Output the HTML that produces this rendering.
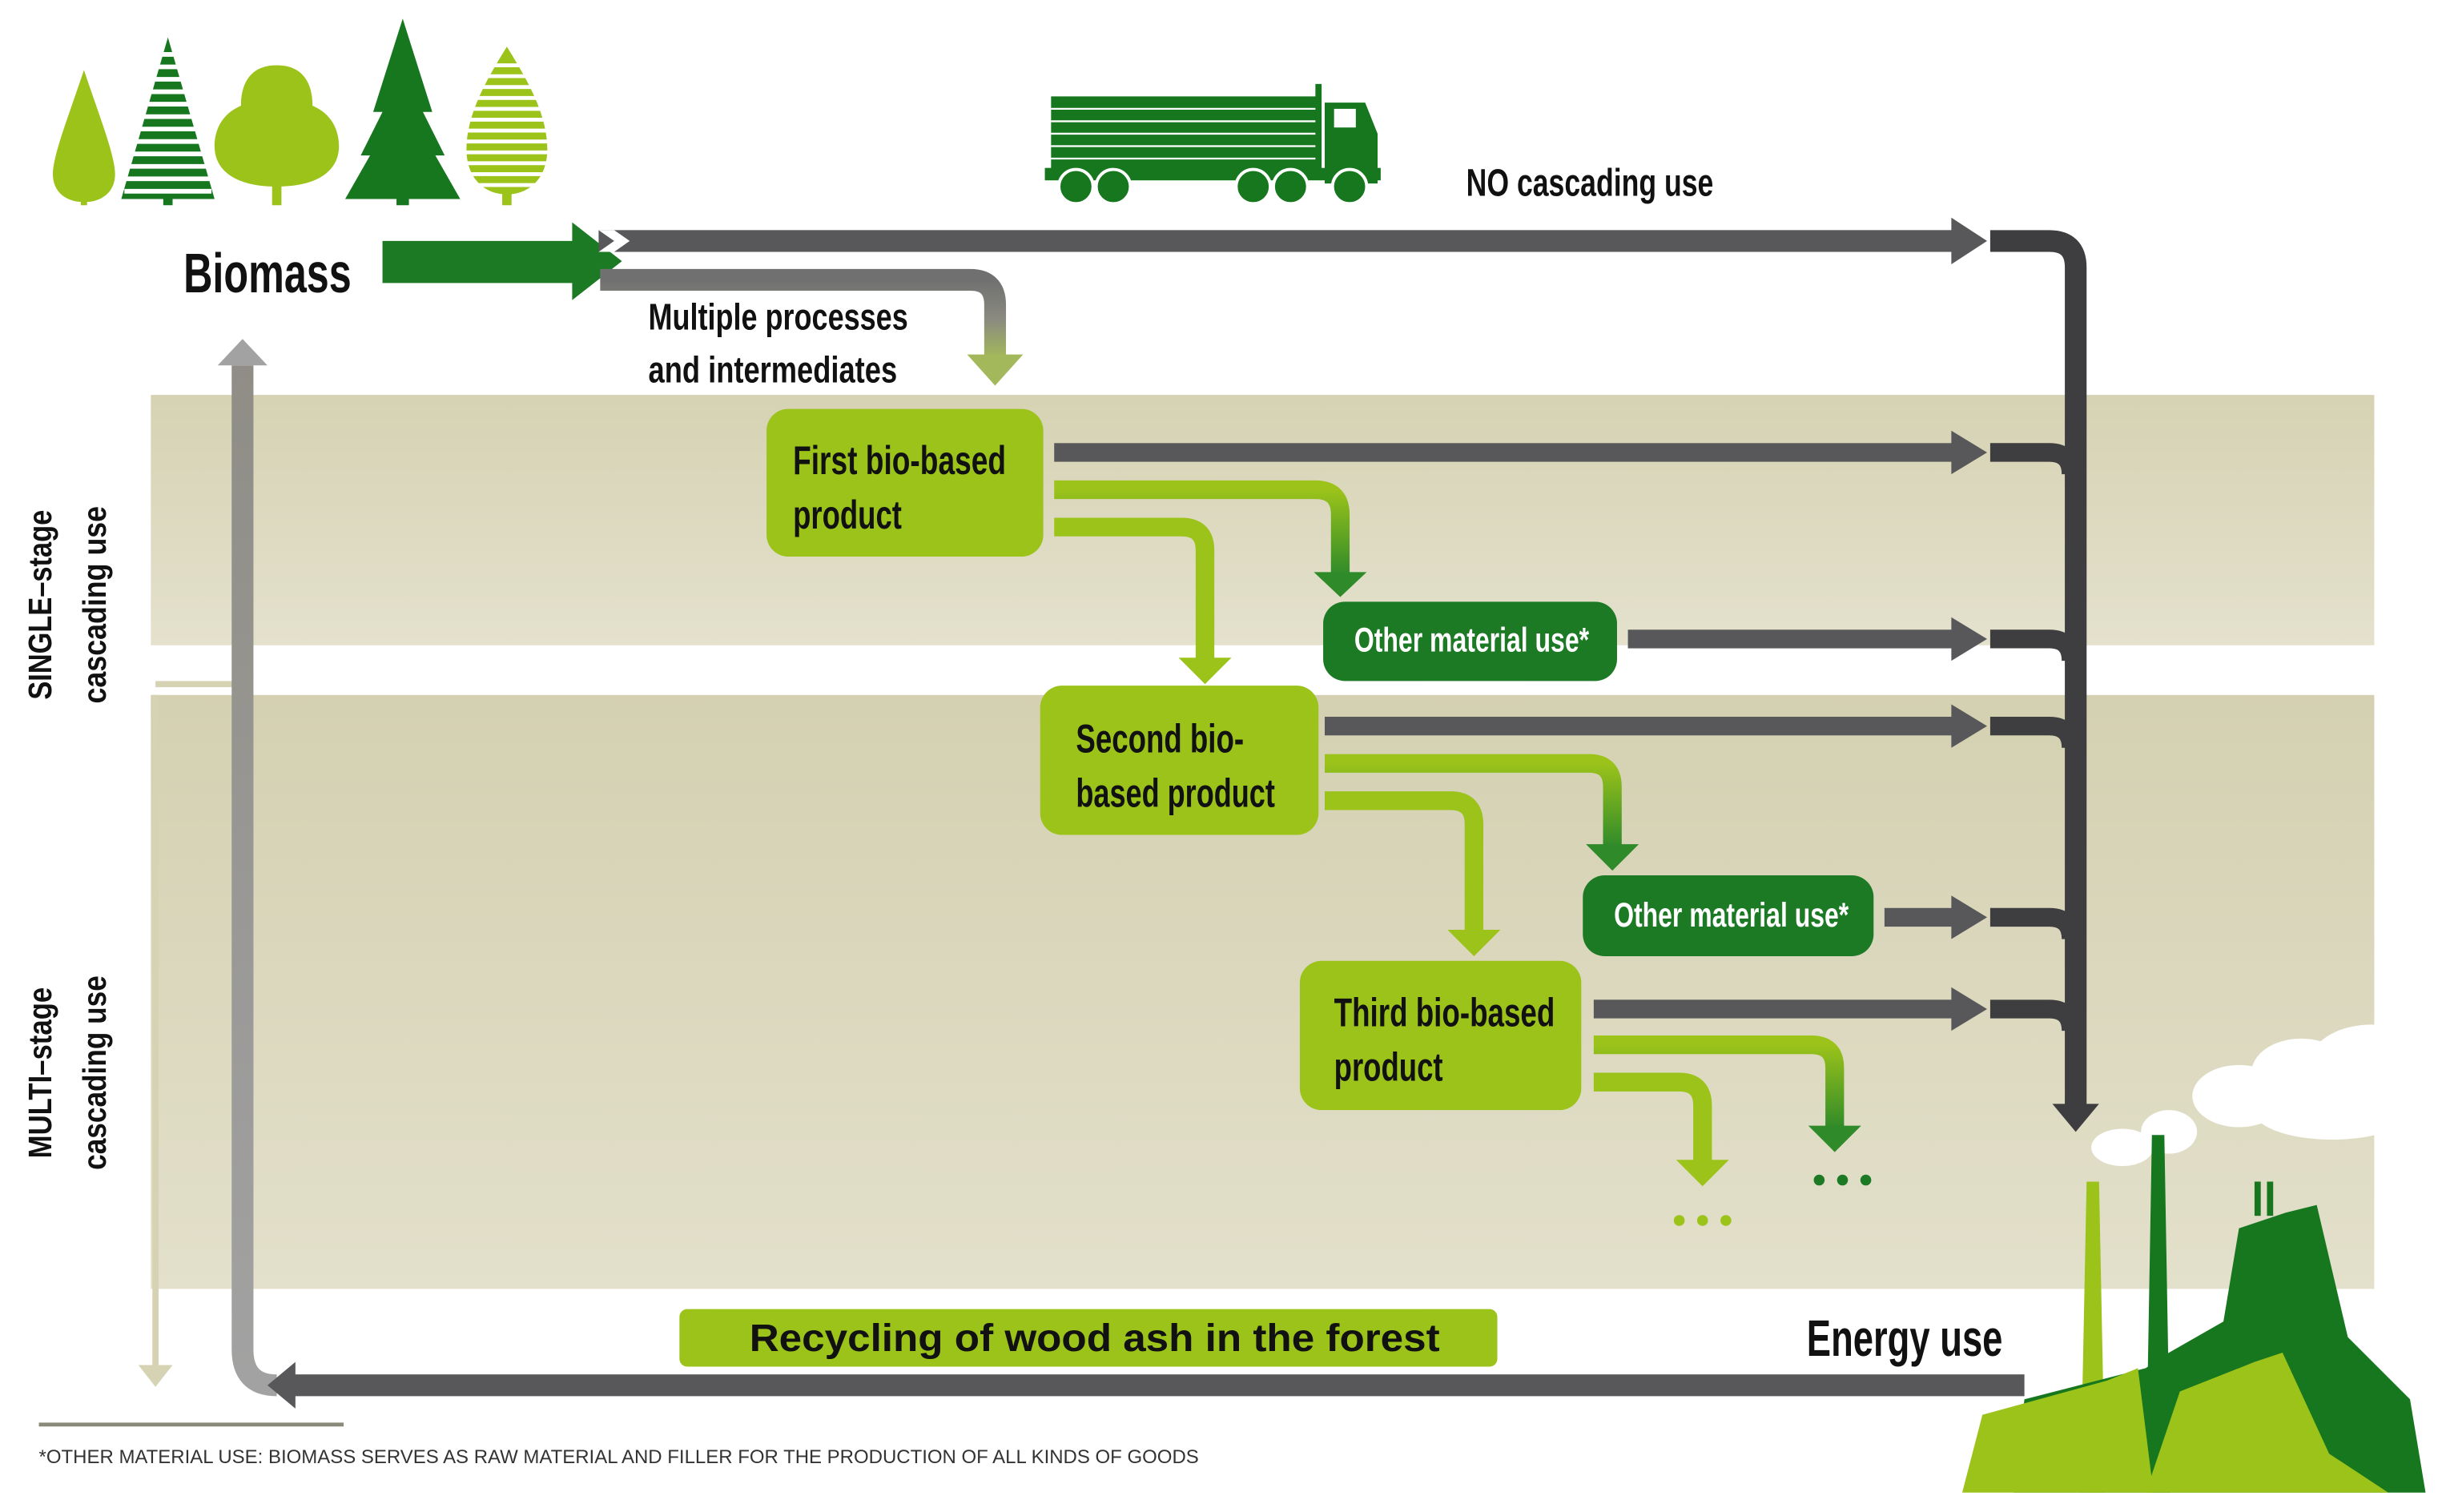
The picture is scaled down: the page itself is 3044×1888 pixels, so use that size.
<!DOCTYPE html>
<html><head><meta charset="utf-8"><style>
html,body{margin:0;padding:0;background:#fff;}
svg{display:block;}
.c{font-family:"Liberation Sans Narrow","Liberation Sans",sans-serif;font-weight:bold;}
</style></head><body>
<svg width="3044" height="1888" viewBox="0 0 1568 972.5" preserveAspectRatio="none" xmlns="http://www.w3.org/2000/svg">
<defs>
<linearGradient id="b1" x1="0" y1="0" x2="0" y2="1"><stop offset="0" stop-color="#d6d2b3"/><stop offset="1" stop-color="#e4e1cd"/></linearGradient>
<linearGradient id="b2" x1="0" y1="0" x2="0" y2="1"><stop offset="0" stop-color="#d4d0b1"/><stop offset="1" stop-color="#e3e0cb"/></linearGradient>
<linearGradient id="gg" x1="0" y1="0" x2="0" y2="1"><stop offset="0" stop-color="#707070"/><stop offset="0.5" stop-color="#8a8a80"/><stop offset="1" stop-color="#a3b85a"/></linearGradient>
<linearGradient id="gd" x1="0" y1="0" x2="0" y2="1"><stop offset="0" stop-color="#9bc31a"/><stop offset="1" stop-color="#2f8a2a"/></linearGradient>
<linearGradient id="gv" x1="0" y1="0" x2="0" y2="1"><stop offset="0" stop-color="#8f8d86"/><stop offset="1" stop-color="#a2a2a2"/></linearGradient>
</defs>
<rect x="97" y="254" width="1430" height="161" fill="url(#b1)"/>
<rect x="97" y="447" width="1430" height="382" fill="url(#b2)"/>
<path d="M100 447 V880" stroke="#d6d3b5" stroke-width="4"/>
<polygon points="89,878 111,878 100,892" fill="#d6d3b5"/>
<path d="M100 440 H150" stroke="#d6d3b5" stroke-width="4"/>
<g>
<path d="M54 45 C44 75 34 100 34 112 C34 124 43 130 54 130 C65 130 74 124 74 112 C74 100 64 75 54 45Z" fill="#9bc31a"/>
<rect x="52" y="120" width="4" height="12" fill="#9bc31a"/>
<polygon points="108,24 138,128 78,128" fill="#17771f"/>
<g stroke="#fff" stroke-width="3">
<line x1="80" y1="35" x2="136" y2="35"/><line x1="80" y1="43" x2="136" y2="43"/><line x1="80" y1="51" x2="136" y2="51"/><line x1="80" y1="59" x2="136" y2="59"/><line x1="80" y1="67" x2="136" y2="67"/><line x1="80" y1="75" x2="136" y2="75"/><line x1="80" y1="83" x2="136" y2="83"/><line x1="80" y1="91" x2="136" y2="91"/><line x1="80" y1="99" x2="136" y2="99"/><line x1="80" y1="107" x2="136" y2="107"/><line x1="80" y1="115" x2="136" y2="115"/><line x1="80" y1="123" x2="136" y2="123"/>
</g>
<rect x="105" y="126" width="6" height="6" fill="#17771f"/>
<path d="M178 42 C158 42 155 58 155 68 C141 74 138 86 138 94 C138 110 152 120 178 120 C204 120 218 110 218 94 C218 86 215 74 201 68 C201 58 198 42 178 42Z" fill="#9bc31a"/>
<rect x="175" y="112" width="6" height="20" fill="#9bc31a"/>
<polygon points="259,12 278,72 272,72 286,100 280,100 296,128 222,128 238,100 232,100 246,72 240,72" fill="#17771f"/>
<rect x="255" y="124" width="8" height="8" fill="#17771f"/>
<path d="M326 30 C315 48 300 72 300 96 C300 114 311 125 326 125 C341 125 352 114 352 96 C352 72 337 48 326 30Z" fill="#9bc31a"/>
<g stroke="#fff" stroke-width="2.5">
<line x1="298" y1="42" x2="354" y2="42"/><line x1="298" y1="49" x2="354" y2="49"/><line x1="298" y1="56" x2="354" y2="56"/><line x1="298" y1="63" x2="354" y2="63"/><line x1="298" y1="70" x2="354" y2="70"/><line x1="298" y1="77" x2="354" y2="77"/><line x1="298" y1="84" x2="354" y2="84"/><line x1="298" y1="91" x2="354" y2="91"/><line x1="298" y1="98" x2="354" y2="98"/><line x1="298" y1="105" x2="354" y2="105"/><line x1="298" y1="112" x2="354" y2="112"/><line x1="298" y1="119" x2="354" y2="119"/>
</g>
<rect x="323" y="122" width="6" height="10" fill="#9bc31a"/>
</g>
<g fill="#17771f">
<rect x="676" y="62" width="172" height="48"/>
<g stroke="#fff" stroke-width="1.2"><line x1="676" y1="70" x2="848" y2="70"/><line x1="676" y1="78" x2="848" y2="78"/><line x1="676" y1="86" x2="848" y2="86"/><line x1="676" y1="94" x2="848" y2="94"/><line x1="676" y1="102" x2="848" y2="102"/></g>
<rect x="846" y="54" width="4" height="60"/>
<path d="M852 66 H878 L886 86 V118 H852Z"/>
<rect x="858" y="70" width="14" height="12" fill="#fff"/>
<rect x="672" y="108" width="216" height="8"/>
<circle cx="692" cy="120" r="11" stroke="#fff" stroke-width="2"/><circle cx="716" cy="120" r="11" stroke="#fff" stroke-width="2"/>
<circle cx="806" cy="120" r="11" stroke="#fff" stroke-width="2"/><circle cx="830" cy="120" r="11" stroke="#fff" stroke-width="2"/><circle cx="868" cy="120" r="11" stroke="#fff" stroke-width="2"/>
</g>
<text x="118" y="188" class="c" font-size="36" fill="#111" textLength="108" lengthAdjust="spacingAndGlyphs">Biomass</text>
<polygon points="246,155 368,155 368,143 400,168 368,193 368,182 246,182" fill="#1c7a25"/>
<rect x="385" y="148" width="872" height="14" fill="#58585a"/>
<polygon points="385,148 395,148 405,155 395,162 385,162 395,155" fill="#fff"/>
<polygon points="1255,140 1278,155 1255,170" fill="#58585a"/>
<path d="M1280 155 H1318 Q1335 155 1335 172 V712" fill="none" stroke="#3e3e40" stroke-width="14"/>
<polygon points="1320,710 1350,710 1335,728" fill="#3e3e40"/>
<text x="943" y="126" class="c" font-size="25" fill="#111" textLength="159" lengthAdjust="spacingAndGlyphs">NO cascading use</text>
<path d="M386 180 H624 Q640 180 640 196 V230" fill="none" stroke="url(#gg)" stroke-width="14"/>
<polygon points="622,228 658,228 640,248" fill="#a3b85a"/>
<text x="417" y="212" class="c" font-size="24" fill="#111" textLength="167" lengthAdjust="spacingAndGlyphs">Multiple processes</text>
<text x="417" y="246" class="c" font-size="24" fill="#111" textLength="160" lengthAdjust="spacingAndGlyphs">and intermediates</text>
<g fill="#58585a">
<rect x="678" y="285" width="579" height="12"/><polygon points="1255,277 1278,291 1255,305"/>
<rect x="1047" y="405" width="210" height="12"/><polygon points="1255,397 1278,411 1255,425"/>
<rect x="852" y="461" width="405" height="12"/><polygon points="1255,453 1278,467 1255,481"/>
<rect x="1212" y="584" width="45" height="12"/><polygon points="1255,576 1278,590 1255,604"/>
<rect x="1025" y="643" width="232" height="12"/><polygon points="1255,635 1278,649 1255,663"/>
</g>
<g fill="none" stroke="#3e3e40" stroke-width="12">
<path d="M1280 291 H1318 Q1332 291 1332 305"/>
<path d="M1280 411 H1318 Q1332 411 1332 425"/>
<path d="M1280 467 H1318 Q1332 467 1332 481"/>
<path d="M1280 590 H1318 Q1332 590 1332 604"/>
<path d="M1280 649 H1318 Q1332 649 1332 663"/>
</g>
<g fill="none" stroke-width="12">
<path d="M678 315 H846 Q862 315 862 331 V370" stroke="url(#gd)"/>
<path d="M678 339 H760 Q775 339 775 354 V425" stroke="#9bc31a"/>
<path d="M852 491 H1022 Q1037 491 1037 506 V545" stroke="url(#gd)"/>
<path d="M852 515 H933 Q948 515 948 530 V600" stroke="#9bc31a"/>
<path d="M1025 672 H1165 Q1180 672 1180 687 V726" stroke="url(#gd)"/>
<path d="M1025 696 H1080 Q1095 696 1095 711 V748" stroke="#9bc31a"/>
</g>
<polygon points="845,368 879,368 862,384" fill="#2f8a2a"/>
<polygon points="758,423 792,423 775,440" fill="#9bc31a"/>
<polygon points="1020,543 1054,543 1037,560" fill="#2f8a2a"/>
<polygon points="931,598 965,598 948,615" fill="#9bc31a"/>
<polygon points="1163,724 1197,724 1180,741" fill="#2f8a2a"/>
<polygon points="1078,746 1112,746 1095,763" fill="#9bc31a"/>
<g fill="#9bc31a"><circle cx="1080" cy="785" r="3.5"/><circle cx="1095" cy="785" r="3.5"/><circle cx="1110" cy="785" r="3.5"/></g>
<g fill="#1c7a25"><circle cx="1170" cy="759" r="3.5"/><circle cx="1185" cy="759" r="3.5"/><circle cx="1200" cy="759" r="3.5"/></g>
<rect x="493" y="263" width="178" height="95" rx="14" fill="#9bc31a"/>
<text x="510" y="305" class="c" font-size="26" fill="#111" textLength="137" lengthAdjust="spacingAndGlyphs">First bio-based</text>
<text x="510" y="340" class="c" font-size="26" fill="#111" textLength="70" lengthAdjust="spacingAndGlyphs">product</text>
<rect x="669" y="441" width="179" height="96" rx="14" fill="#9bc31a"/>
<text x="692" y="484" class="c" font-size="26" fill="#111" textLength="108" lengthAdjust="spacingAndGlyphs">Second bio-</text>
<text x="692" y="519" class="c" font-size="26" fill="#111" textLength="128" lengthAdjust="spacingAndGlyphs">based product</text>
<rect x="836" y="618" width="181" height="96" rx="14" fill="#9bc31a"/>
<text x="858" y="660" class="c" font-size="26" fill="#111" textLength="142" lengthAdjust="spacingAndGlyphs">Third bio-based</text>
<text x="858" y="695" class="c" font-size="26" fill="#111" textLength="70" lengthAdjust="spacingAndGlyphs">product</text>
<rect x="851" y="387" width="189" height="51" rx="14" fill="#1c7a25"/>
<text x="871" y="419" class="c" font-size="22" fill="#fff" textLength="151" lengthAdjust="spacingAndGlyphs">Other material use*</text>
<rect x="1018" y="563" width="187" height="52" rx="14" fill="#1c7a25"/>
<text x="1038" y="596" class="c" font-size="22" fill="#fff" textLength="151" lengthAdjust="spacingAndGlyphs">Other material use*</text>
<path d="M156 235 V868 Q156 891 178 891" fill="none" stroke="url(#gv)" stroke-width="14"/>
<polygon points="140,235 172,235 156,218" fill="#a2a2a2"/>
<rect x="182" y="884" width="1120" height="14" fill="#58585a"/>
<polygon points="190,876 190,906 172,891" fill="#58585a"/>
<rect x="437" y="842" width="526" height="37" rx="5" fill="#9bc31a"/>
<text x="482" y="869" font-family="Liberation Sans, sans-serif" font-weight="bold" font-size="25" fill="#111" textLength="444" lengthAdjust="spacingAndGlyphs">Recycling of wood ash in the forest</text>
<text x="1162" y="872" class="c" font-size="33" fill="#111" textLength="126" lengthAdjust="spacingAndGlyphs">Energy use</text>
<text transform="translate(33,389) rotate(-90)" font-family="Liberation Sans, sans-serif" font-weight="bold" font-size="21" fill="#111" text-anchor="middle" textLength="122" lengthAdjust="spacingAndGlyphs">SINGLE–stage</text>
<text transform="translate(68,389) rotate(-90)" font-family="Liberation Sans, sans-serif" font-weight="bold" font-size="21" fill="#111" text-anchor="middle" textLength="127" lengthAdjust="spacingAndGlyphs">cascading use</text>
<text transform="translate(33,690) rotate(-90)" font-family="Liberation Sans, sans-serif" font-weight="bold" font-size="21" fill="#111" text-anchor="middle" textLength="110" lengthAdjust="spacingAndGlyphs">MULTI–stage</text>
<text transform="translate(68,690) rotate(-90)" font-family="Liberation Sans, sans-serif" font-weight="bold" font-size="21" fill="#111" text-anchor="middle" textLength="125" lengthAdjust="spacingAndGlyphs">cascading use</text>
<rect x="25" y="915" width="196" height="2.5" fill="#8a8a7a"/>
<text x="25" y="941" font-family="Liberation Sans Narrow, Liberation Sans, sans-serif" font-size="12.5" fill="#333" textLength="746" lengthAdjust="spacingAndGlyphs">*OTHER MATERIAL USE: BIOMASS SERVES AS RAW MATERIAL AND FILLER FOR THE PRODUCTION OF ALL KINDS OF GOODS</text>
<g>
<g fill="#fff">
<ellipse cx="1365" cy="738" rx="20" ry="12"/><ellipse cx="1395" cy="728" rx="18" ry="14"/><ellipse cx="1440" cy="705" rx="30" ry="20"/><ellipse cx="1480" cy="690" rx="32" ry="22"/><ellipse cx="1525" cy="685" rx="40" ry="26"/><ellipse cx="1500" cy="715" rx="50" ry="18"/><ellipse cx="1545" cy="715" rx="25" ry="18"/>
</g>
<polygon points="1342,760 1350,760 1354,960 1338,960" fill="#9bc31a"/>
<polygon points="1384,730 1392,730 1396,960 1380,960" fill="#17771f"/>
<polygon points="1302,900 1380,880 1395,870 1430,850 1440,790 1470,780 1490,775 1510,860 1550,900 1560,960 1295,960" fill="#17771f"/>
<rect x="1450" y="760" width="4" height="22" fill="#17771f"/><rect x="1458" y="760" width="4" height="22" fill="#17771f"/>
<polygon points="1262,960 1275,910 1355,888 1375,880 1385,960" fill="#9bc31a"/>
<polygon points="1380,960 1402,895 1450,876 1468,870 1498,935 1536,960" fill="#9bc31a"/>
</g>
</svg>
</body></html>
